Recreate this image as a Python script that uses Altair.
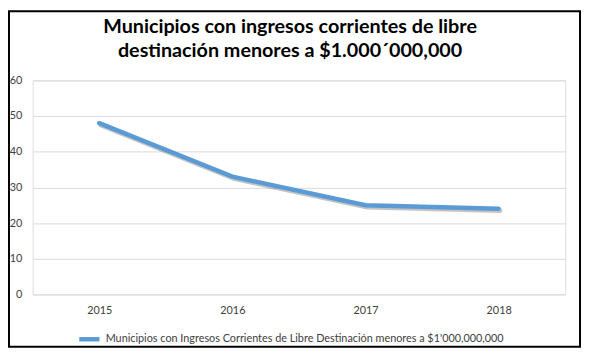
import altair as alt
import pandas as pd

years = ["2015", "2016", "2017", "2018"]
values = [48, 33, 25, 24]
series_name = "Municipios con Ingresos Corrientes de Libre Destinación menores a $1'000,000,000"
title_lines = ["Municipios con ingresos corrientes de libre", "destinación menores a $1.000´000,000"]

df = pd.DataFrame({"year": years, "value": values, "serie": [series_name] * len(years)})

W, H = 540, 217
FONT = "Lato"

base = alt.Chart(df).encode(
    x=alt.X("year:N", sort=years, title=None,
            scale=alt.Scale(paddingInner=0, paddingOuter=0.5),
            axis=alt.Axis(labelAngle=0, ticks=False, domain=False, labelPadding=10,
                          labelFont=FONT, labelFontSize=11, labelColor="#404040")),
    y=alt.Y("value:Q", title=None,
            scale=alt.Scale(domain=[0, 60]),
            axis=alt.Axis(values=[0, 10, 20, 30, 40, 50, 60], ticks=False, domain=False,
                          labelPadding=11, labelFont=FONT, labelFontSize=11,
                          labelColor="#404040", gridColor="#D9D9D9", gridWidth=1)),
)

shadow = base.mark_line(strokeWidth=4.5, color="#555555", opacity=0.35,
                        xOffset=1.5, yOffset=2, strokeCap="round")

line = base.mark_line(strokeWidth=4.5, strokeCap="round").encode(
    color=alt.Color("serie:N", scale=alt.Scale(range=["#5B9BD5"]), title=None,
                    legend=alt.Legend(orient="none", legendX=45, legendY=250,
                                      symbolType="stroke", symbolStrokeWidth=4.5,
                                      symbolSize=420, labelFont=FONT, labelFontSize=11,
                                      labelColor="#404040", labelLimit=600))
)

one = pd.DataFrame({"k": [0]})

border = alt.Chart(one).mark_rect(filled=False, stroke="black", strokeWidth=2).encode(
    x=alt.value(-24), x2=alt.value(W + 15), y=alt.value(-70), y2=alt.value(H + 53)
)

title = alt.Chart(one).mark_text(
    text=title_lines, font=FONT, fontSize=20, fontWeight="bold", color="#000000",
    align="center", baseline="alphabetic", lineHeight=24.5
).encode(x=alt.value(W / 2 - 9), y=alt.value(-48))

chart = alt.layer(shadow, line, border, title).properties(
    width=W, height=H,
    autosize=alt.AutoSizeParams(type="none"),
    padding={"left": 25, "top": 71, "right": 16, "bottom": 54},
).configure_view(stroke=None).configure(background="white")

chart.save("out.html", embed_options={"renderer": "svg", "actions": False})
